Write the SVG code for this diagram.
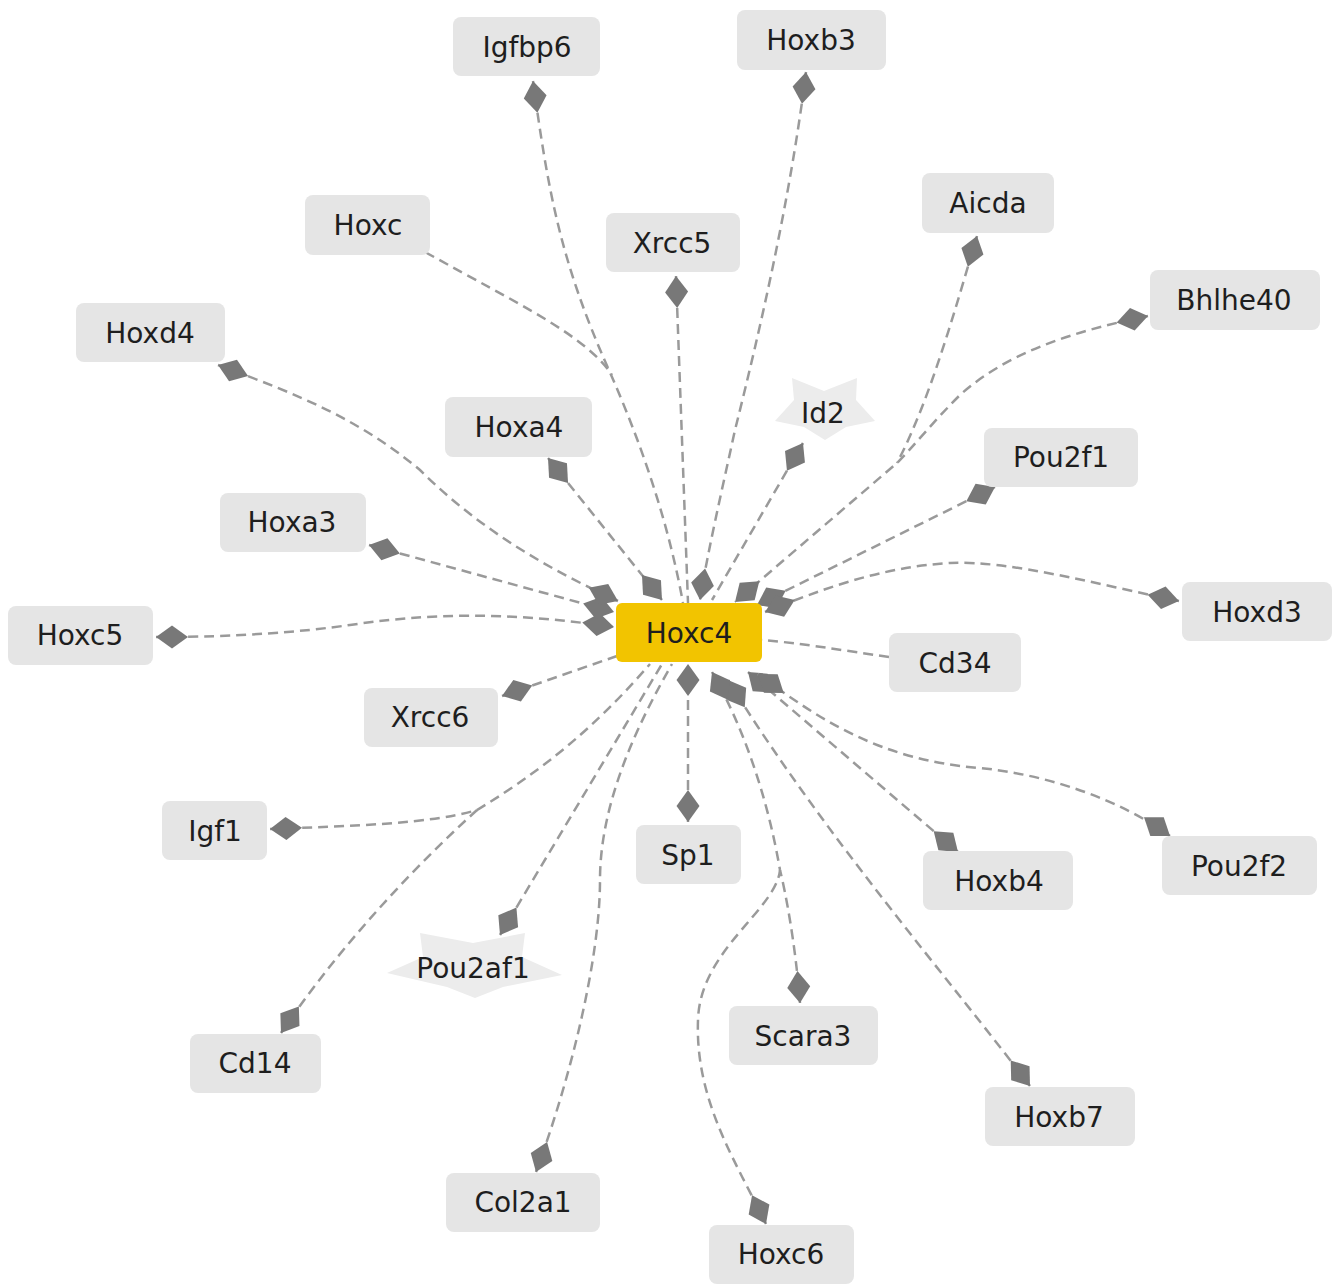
<svg xmlns="http://www.w3.org/2000/svg" width="1339" height="1284" viewBox="0 0 1339 1284">
<style>
.n rect{fill:#e5e5e5}
.n text,.st text{font-family:"DejaVu Sans",sans-serif;font-size:28px;fill:#1e1e1e;text-anchor:middle}
.st polygon{fill:#ececec}
#Hoxc4 rect{fill:#f2c400}
#edges path{fill:none;stroke:#9a9a9a;stroke-width:2.5;stroke-dasharray:10 6}
#edges .s{marker-start:url(#dm)}
#edges .e{marker-end:url(#dm)}
</style>
<defs>
<marker id="dm" markerUnits="userSpaceOnUse" refX="0" refY="0" orient="auto-start-reverse" overflow="visible" markerWidth="40" markerHeight="30">
<polygon points="0,0 -16,-11.5 -32,0 -16,11.5" fill="#787878"/>
</marker>
</defs>
<rect width="1339" height="1284" fill="#ffffff"/>
<g id="edges">
<path d="M425,252 C520,305 585,335 612,375"/>
<path class="s" d="M533,81 C548,190 560,260 608,368 C640,440 668,520 683,603"/>
<path class="s" d="M676,276 L688,603"/>
<path class="s e" d="M806,72 C790,200 760,330 735,430 C722,490 708,550 700,600"/>
<path class="s" d="M977,236 C955,310 930,400 897,463"/>
<path class="s e" d="M1148,316 C1080,330 1010,350 960,395 C930,425 915,445 897,463 L735,602"/>
<path class="s" d="M803,443 L712,600"/>
<path class="s e" d="M995,487 L757,605"/>
<path class="s e" d="M1179,601 C1100,585 1010,560 950,563 C880,567 820,590 765,612"/>
<path d="M889,657 C840,650 800,643 762,640"/>
<path class="s e" d="M958,852 L748,672"/>
<path class="s e" d="M1170,836 C1120,800 1050,775 980,768 C880,760 820,720 758,674"/>
<path class="s e" d="M1030,1086 C950,980 820,830 728,680"/>
<path class="s e" d="M800,1003 C795,940 785,890 780,870 C768,800 745,730 712,672"/>
<path class="s" d="M766,1224 C735,1160 695,1100 698,1020 C700,950 776,910 780,870"/>
<path class="s e" d="M688,822 L688,664"/>
<path class="s" d="M536,1172 C570,1080 600,960 600,880 C600,800 640,720 672,664"/>
<path class="s" d="M500,935 L662,664"/>
<path class="s" d="M281,1033 C330,960 400,880 477,810"/>
<path class="s" d="M270,829 C350,826 430,824 477,810 C560,760 610,710 650,664"/>
<path class="s" d="M502,696 L617,656"/>
<path class="s e" d="M156,637 C240,637 300,632 350,625 C450,610 530,615 614,627"/>
<path class="s e" d="M369,545 L614,612"/>
<path class="s e" d="M218,365 C300,395 360,420 420,470 C480,530 550,570 618,601"/>
<path class="s e" d="M548,458 L662,600"/>
</g>
<g id="Igfbp6" class="n"><rect x="453" y="17" width="147" height="59" rx="8"/><text x="527" y="57">Igfbp6</text></g>
<g id="Hoxb3" class="n"><rect x="737" y="10" width="149" height="60" rx="8"/><text x="811" y="50">Hoxb3</text></g>
<g id="Aicda" class="n"><rect x="922" y="173" width="132" height="60" rx="8"/><text x="988" y="213">Aicda</text></g>
<g id="Bhlhe40" class="n"><rect x="1150" y="270" width="170" height="60" rx="8"/><text x="1234" y="310">Bhlhe40</text></g>
<g id="Hoxc" class="n"><rect x="305" y="195" width="125" height="60" rx="8"/><text x="368" y="235">Hoxc</text></g>
<g id="Xrcc5" class="n"><rect x="606" y="213" width="134" height="59" rx="8"/><text x="672" y="253">Xrcc5</text></g>
<g id="Hoxd4" class="n"><rect x="76" y="303" width="149" height="59" rx="8"/><text x="150" y="343">Hoxd4</text></g>
<g id="Hoxa4" class="n"><rect x="445" y="397" width="147" height="60" rx="8"/><text x="519" y="437">Hoxa4</text></g>
<g id="Id2" class="st"><polygon points="792,378 824,391 857,378 856,400 875,421 846,427 825,440 804,427 775,421 794,400"/><text x="823" y="423">Id2</text></g>
<g id="Pou2f1" class="n"><rect x="984" y="428" width="154" height="59" rx="8"/><text x="1061" y="467">Pou2f1</text></g>
<g id="Hoxa3" class="n"><rect x="220" y="493" width="146" height="59" rx="8"/><text x="292" y="532">Hoxa3</text></g>
<g id="Hoxd3" class="n"><rect x="1182" y="582" width="150" height="59" rx="8"/><text x="1257" y="622">Hoxd3</text></g>
<g id="Hoxc5" class="n"><rect x="8" y="606" width="145" height="59" rx="8"/><text x="80" y="645">Hoxc5</text></g>
<g id="Hoxc4" class="n"><rect x="616" y="603" width="146" height="59" rx="6"/><text x="689" y="643">Hoxc4</text></g>
<g id="Cd34" class="n"><rect x="889" y="633" width="132" height="59" rx="8"/><text x="955" y="673">Cd34</text></g>
<g id="Xrcc6" class="n"><rect x="364" y="688" width="134" height="59" rx="8"/><text x="430" y="727">Xrcc6</text></g>
<g id="Igf1" class="n"><rect x="162" y="801" width="105" height="59" rx="8"/><text x="215" y="841">Igf1</text></g>
<g id="Sp1" class="n"><rect x="636" y="825" width="105" height="59" rx="8"/><text x="688" y="865">Sp1</text></g>
<g id="Hoxb4" class="n"><rect x="923" y="851" width="150" height="59" rx="8"/><text x="999" y="891">Hoxb4</text></g>
<g id="Pou2f2" class="n"><rect x="1162" y="836" width="155" height="59" rx="8"/><text x="1239" y="876">Pou2f2</text></g>
<g id="Pou2af1" class="st"><polygon points="420,933 473,943 525,933 522,957 562,975 503,987 475,998 447,987 387,973 423,957"/><text x="473" y="978">Pou2af1</text></g>
<g id="Cd14" class="n"><rect x="190" y="1034" width="131" height="59" rx="8"/><text x="255" y="1073">Cd14</text></g>
<g id="Scara3" class="n"><rect x="729" y="1006" width="149" height="59" rx="8"/><text x="803" y="1046">Scara3</text></g>
<g id="Hoxb7" class="n"><rect x="985" y="1087" width="150" height="59" rx="8"/><text x="1059" y="1127">Hoxb7</text></g>
<g id="Col2a1" class="n"><rect x="446" y="1173" width="154" height="59" rx="8"/><text x="523" y="1212">Col2a1</text></g>
<g id="Hoxc6" class="n"><rect x="709" y="1225" width="145" height="59" rx="8"/><text x="781" y="1264">Hoxc6</text></g>
</svg>
